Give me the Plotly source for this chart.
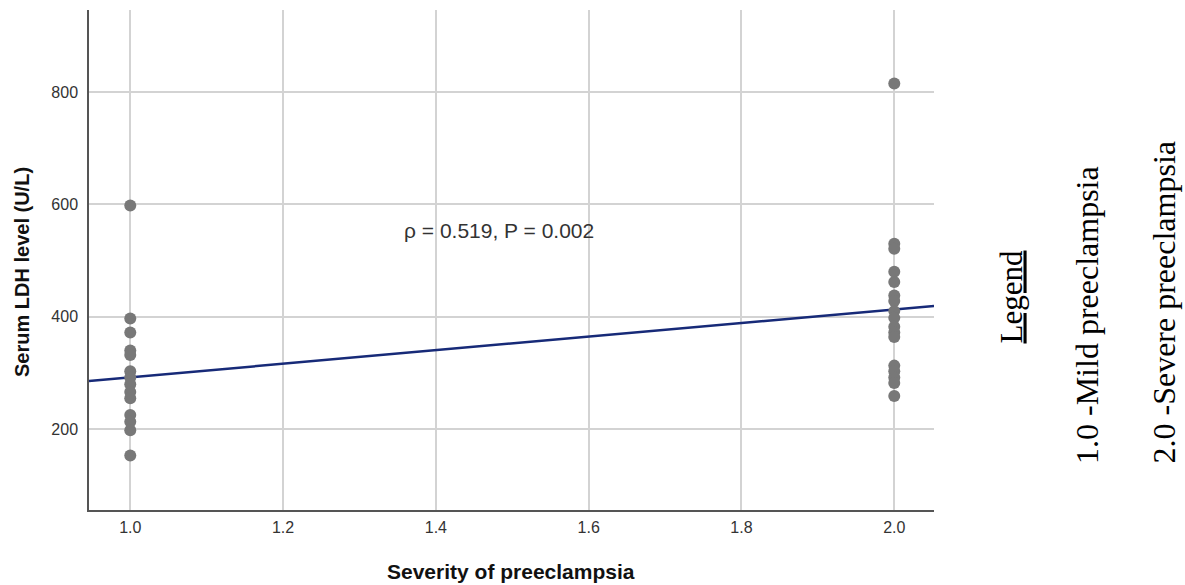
import plotly.graph_objects as go

# ---- data ----
mild_x = [1.0] * 14
mild_ldh = [598, 397, 372, 340, 332, 303, 292, 280, 266, 255, 225, 213, 198, 153]
severe_x = [2.0] * 17
severe_ldh = [815, 530, 521, 480, 462, 438, 428, 410, 398, 382, 372, 364, 313, 303, 292, 282, 259]

fit_intercept = 171.5
fit_slope = 120.7

x_range = [0.946, 2.052]
y_range = [56, 946]
x_ticks = [1.0, 1.2, 1.4, 1.6, 1.8, 2.0]
x_ticklabels = ["1.0", "1.2", "1.4", "1.6", "1.8", "2.0"]
y_ticks = [200, 400, 600, 800]

annotation_text = "ρ = 0.519, P = 0.002"
legend_title = "Legend"
legend_items = ["1.0 -Mild preeclampsia", "2.0 -Severe preeclampsia"]

fig = go.Figure()

fit_x = [x_range[0], x_range[1]]
fit_y = [fit_intercept + fit_slope * v for v in fit_x]
fig.add_trace(go.Scatter(x=fit_x, y=fit_y, mode="lines",
                         line=dict(color="#172a78", width=2.5),
                         hoverinfo="skip", showlegend=False))

fig.add_trace(go.Scatter(x=mild_x + severe_x, y=mild_ldh + severe_ldh,
                         mode="markers",
                         marker=dict(color="#787878", size=12, line=dict(width=0)),
                         showlegend=False))

fig.update_layout(
    width=1185, height=585,
    margin=dict(l=89, r=251, t=10, b=75),
    paper_bgcolor="white", plot_bgcolor="white",
    font=dict(family="Liberation Sans, Arial, sans-serif", color="#333333"),
    showlegend=False,
)

fig.update_xaxes(range=x_range, tickvals=x_ticks, ticktext=x_ticklabels,
                 showgrid=True, gridcolor="#d3d3d3", gridwidth=1.5,
                 showline=True, linecolor="#555555", linewidth=1.5,
                 zeroline=False, ticks="", tickfont=dict(size=16, color="#333333"),
                 ticklabelstandoff=2)
fig.update_yaxes(range=y_range, tickvals=y_ticks,
                 showgrid=True, gridcolor="#d3d3d3", gridwidth=1.5,
                 showline=True, linecolor="#555555", linewidth=1.5,
                 zeroline=False, ticks="", tickfont=dict(size=16, color="#333333"),
                 ticklabelstandoff=6)

# axis titles
fig.add_annotation(text="<b>Severity of preeclampsia</b>", xref="paper", yref="paper",
                   x=(511 - 89) / 845, y=(510 - 571) / 500, showarrow=False,
                   xanchor="center", yanchor="middle",
                   font=dict(size=21, color="#111111", family="Liberation Sans, Arial"))
fig.add_annotation(text="<b>Serum LDH level (U/L)</b>", xref="paper", yref="paper",
                   x=(22 - 89) / 845, y=(510 - 272) / 500, showarrow=False,
                   textangle=-90, xanchor="center", yanchor="middle",
                   font=dict(size=20, color="#111111", family="Liberation Sans, Arial"))

fig.add_annotation(text=annotation_text, x=1.483, y=554, xref="x", yref="y",
                   showarrow=False, xanchor="center", yanchor="middle",
                   font=dict(size=21, color="#333333"))

# legend text (rotated, serif)
serif = "Liberation Serif, Times New Roman, serif"
fig.add_annotation(text="<u>" + legend_title + "</u>", xref="paper", yref="paper",
                   x=(1011 - 89) / 845, y=(510 - 345) / 500, textangle=-90,
                   showarrow=False, xanchor="center", yanchor="bottom",
                   font=dict(size=31, color="black", family=serif))
for px, txt in zip([1087, 1163], legend_items):
    fig.add_annotation(text=txt, xref="paper", yref="paper",
                       x=(px - 89) / 845, y=(510 - 466) / 500, textangle=-90,
                       showarrow=False, xanchor="center", yanchor="bottom",
                       font=dict(size=32, color="black", family=serif))

fig.write_html("out.html")
